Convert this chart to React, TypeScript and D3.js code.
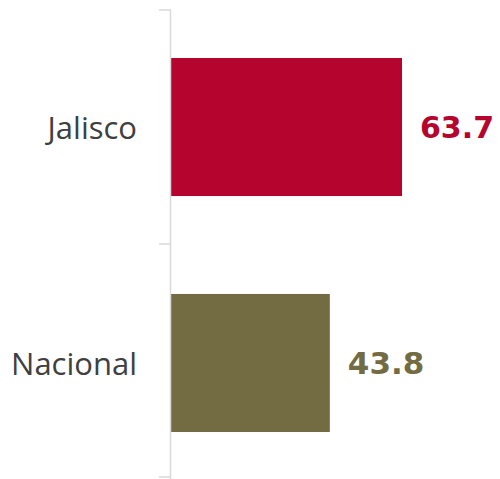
import React from "react";
import * as d3 from "d3";

const categories = ["Jalisco", "Nacional"];
const values = [63.7, 43.8];
const colors = ["#B5052E", "#736C43"];

export default function App() {
  const W = 500, H = 479;
  const x0 = 171;
  const x = d3.scaleLinear().domain([0, 63.7]).range([x0, 402]);
  const y = d3.scaleBand().domain(categories).range([11.5, 478.5]).paddingInner(0.415).paddingOuter(0.197);
  const ticks = [10, 244, 477];
  return (
    <svg width={W} height={H} style={{ position: "absolute", left: 0, top: 0 }}>
      <rect width={W} height={H} fill="#fff" />
      {categories.map((c, i) => (
        <g key={c}>
          <rect x={x(0)} y={y(c)!} width={x(values[i]) - x(0)} height={y.bandwidth()} fill={colors[i]} />
          <text x={x(values[i]) + 18} y={y(c)! + y.bandwidth() / 2} dy="0.36em" fill={colors[i]}
            fontFamily="'DejaVu Sans', sans-serif" fontWeight="bold" fontSize={i === 0 ? 30 : 31}>
            {values[i].toFixed(1)}
          </text>
          <text x={137} y={y(c)! + y.bandwidth() / 2 + 1} dy="0.36em" textAnchor="end" fill="#404040"
            fontFamily="'Open Sans', sans-serif" fontSize={31}>
            {c}
          </text>
        </g>
      ))}
      <line x1={x0 - 0.5} x2={x0 - 0.5} y1={10} y2={479} stroke="#d9d9d9" strokeWidth={1.5} />
      {ticks.map((t) => (
        <line key={t} x1={159} x2={x0} y1={t} y2={t} stroke="#d9d9d9" strokeWidth={1.5} />
      ))}
    </svg>
  );
}
